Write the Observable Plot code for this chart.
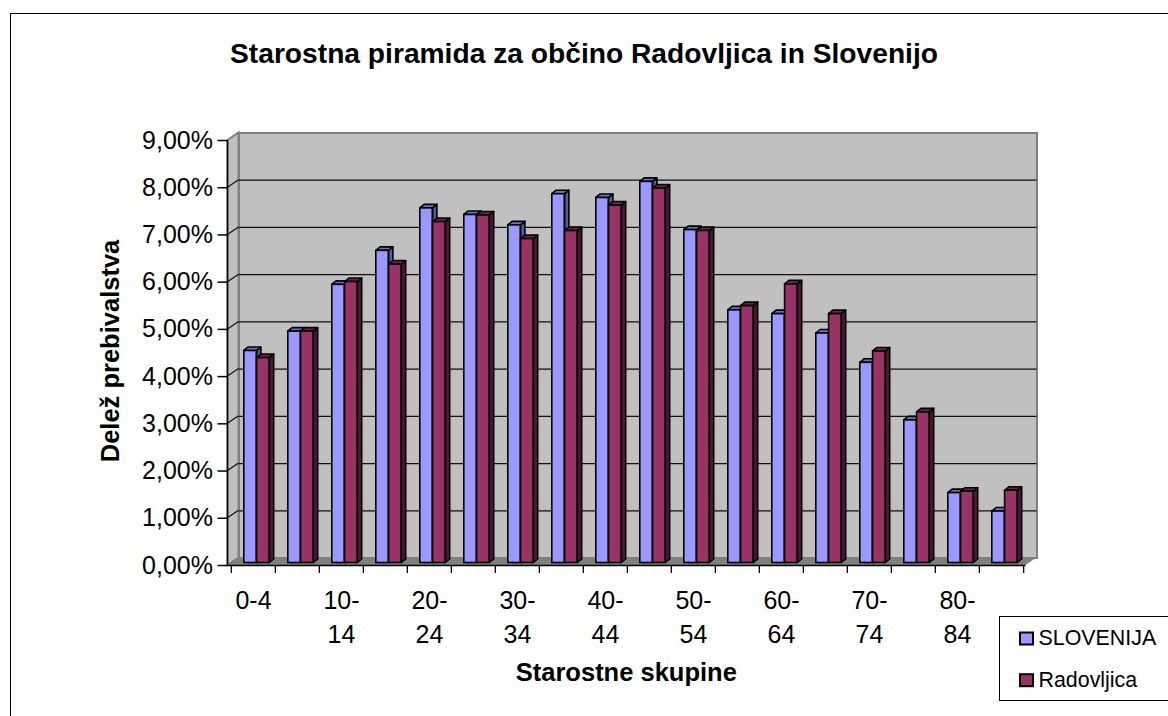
<!DOCTYPE html>
<html><head><meta charset="utf-8">
<script src="https://cdn.jsdelivr.net/npm/d3@7"></script>
<script src="https://cdn.jsdelivr.net/npm/@observablehq/plot@0.6"></script>
<style>
html,body{margin:0;padding:0;overflow:hidden;background:#fff;width:1168px;height:716px;}
#wrap{position:relative;width:1168px;height:716px;overflow:hidden;background:#fff;}
#border{position:absolute;left:10px;top:13px;width:1300px;height:900px;border:1px solid #000;box-sizing:border-box;}
#chart{position:absolute;left:0;top:0;}
</style></head><body>
<div id="wrap"><div id="border"></div><div id="chart"></div></div>
<script>
// ---- data ----
const ages = ["0-4","5-9","10-14","15-19","20-24","25-29","30-34","35-39","40-44","45-49","50-54","55-59","60-64","65-69","70-74","75-79","80-84","85+"];
const slovenija = [4.49, 4.90, 5.89, 6.61, 7.51, 7.37, 7.15, 7.81, 7.73, 8.07, 7.05, 5.35, 5.27, 4.86, 4.24, 3.02, 1.48, 1.09];
const radovljica = [4.34, 4.90, 5.95, 6.32, 7.22, 7.36, 6.86, 7.03, 7.57, 7.93, 7.03, 5.44, 5.90, 5.27, 4.48, 3.19, 1.51, 1.53];
const yTicks = [0, 0.01, 0.02, 0.03, 0.04, 0.05, 0.06, 0.07, 0.08, 0.09];
const labeledAges = ["0-4","10-14","20-24","30-34","40-44","50-54","60-64","70-74","80-84"];
const tickLabels = ["0-4","10-\n14","20-\n24","30-\n34","40-\n44","50-\n54","60-\n64","70-\n74","80-\n84"];
const seriesNames = ["SLOVENIJA","Radovljica"];
const title = "Starostna piramida za občino Radovljica in Slovenijo";
const xTitle = "Starostne skupine";
const yTitle = "Delež prebivalstva";

// ---- styling / layout ----
const colors = ["#9999FF","#993366"];
const sideColors = ["#5B5B99","#4C1833"];
const topColors = ["#7070C0","#6E2449"];
const W = 1168, H = 716, ML = 227.5, MR = 142.5, MT = 140, MB = 151;
const bw = (W - ML - MR) / ages.length;
const DEPTH = [11, -7.5], OFF = [3.5, -2.5], BD = [4.3, -3.5];
const barW = 12.8, lead = 9.3;
const FONT = "'Liberation Sans', Arial, sans-serif";

const rows = ages.map((age, i) => ({age, slo: slovenija[i] / 100, rad: radovljica[i] / 100}));
const fmt = d => (d * 100).toFixed(2).replace(".", ",") + "%";

const chart = Plot.plot({
  width: W, height: H, marginLeft: ML, marginRight: MR, marginTop: MT, marginBottom: MB,
  style: {fontFamily: FONT, fontSize: "25px", background: "transparent", color: "#000", overflow: "visible"},
  x: {type: "band", domain: ages, padding: 0},
  y: {domain: [0, 0.09], nice: false},
  marks: [
    Plot.frame({fill: "#C0C0C0", stroke: "#808080", strokeWidth: 2, dx: DEPTH[0], dy: DEPTH[1]}),
    Plot.ruleY(yTicks.slice(1, -1), {stroke: "#111", strokeWidth: 1.2, dx: DEPTH[0], dy: DEPTH[1]}),
    Plot.barY(rows, {x: "age", y: "slo", fill: colors[0], stroke: "#000", strokeWidth: 1.6,
      insetLeft: lead, insetRight: bw - lead - barW, dx: OFF[0], dy: OFF[1]}),
    Plot.barY(rows, {x: "age", y: "rad", fill: colors[1], stroke: "#000", strokeWidth: 1.6,
      insetLeft: lead + barW, insetRight: bw - lead - 2 * barW, dx: OFF[0], dy: OFF[1]}),
    Plot.ruleY([0], {stroke: "#000", strokeWidth: 1.5}),
    Plot.axisY({ticks: yTicks, tickFormat: fmt, tickSize: 10, tickPadding: 5, fontSize: 25, label: null, strokeWidth: 1.5}),
    Plot.axisX({ticks: ages, tickSize: 8, tickFormat: () => "", label: null, dx: -bw / 2, strokeWidth: 1.3}),
    Plot.axisX({ticks: [ages[ages.length - 1]], tickSize: 8, tickFormat: () => "", label: null, dx: bw / 2, strokeWidth: 1.3}),
    Plot.text(labeledAges, {x: d => d, y: () => 0, text: (d, i) => tickLabels[i], lineAnchor: "top", lineHeight: 1.37, dy: 19, fontSize: 25}),
    Plot.text([title], {text: d => d, frameAnchor: "top", textAnchor: "middle", dx: -43, dy: -97.9, lineAnchor: "top", fontSize: 28.2, fontWeight: "bold"}),
    Plot.text([xTitle], {text: d => d, frameAnchor: "bottom", textAnchor: "middle", dx: -0.7, dy: 96.9, lineAnchor: "top", fontSize: 25.5, fontWeight: "bold"}),
    Plot.text([yTitle], {text: d => d, frameAnchor: "left", textAnchor: "middle", rotate: -90, dx: -117.5, dy: -2, lineAnchor: "middle", fontSize: 25.5, fontWeight: "bold"})
  ]
});
document.getElementById("chart").appendChild(chart);

// ---- 3D decoration using the plot's own scales ----
const xs = chart.scale("x"), ys = chart.scale("y");
const X = v => xs.apply(v), Y = v => ys.apply(v);
const x0 = xs.range[0], x1 = xs.range[1];
const y0 = Y(0), yTop = Y(yTicks[yTicks.length - 1]);
const pts = a => a.map(p => p.join(",")).join(" ");

const frameEl = chart.querySelector('[aria-label="frame"]');
const walls = d3.create("svg:g");
walls.append("polygon")
  .attr("points", pts([[x0, yTop], [x0 + DEPTH[0], yTop + DEPTH[1]], [x0 + DEPTH[0], y0 + DEPTH[1]], [x0, y0]]))
  .attr("fill", "#C0C0C0").attr("stroke", "#808080").attr("stroke-width", 2);
walls.append("polygon")
  .attr("points", pts([[x0, y0], [x0 + DEPTH[0], y0 + DEPTH[1]], [x1 + DEPTH[0], y0 + DEPTH[1]], [x1, y0]]))
  .attr("fill", "#808080");
walls.selectAll("line.diag").data(yTicks.slice(1, -1)).join("line")
  .attr("x1", x0).attr("y1", d => Y(d)).attr("x2", x0 + DEPTH[0]).attr("y2", d => Y(d) + DEPTH[1])
  .attr("stroke", "#111").attr("stroke-width", 1.2);
frameEl.after(walls.node());

const barGroups = chart.querySelectorAll('g[aria-label="bar"]');
[["slo", 0], ["rad", 1]].forEach(([key, s]) => {
  const g = d3.create("svg:g").attr("stroke", "#000").attr("stroke-width", 1.6).attr("stroke-linejoin", "round");
  rows.forEach(r => {
    const xL = X(r.age) + lead + s * barW + OFF[0];
    const xR = xL + barW;
    const yT = Y(r[key]) + OFF[1];
    const yB = y0 + OFF[1];
    g.append("polygon").attr("fill", sideColors[s])
      .attr("points", pts([[xR, yT], [xR + BD[0], yT + BD[1]], [xR + BD[0], yB + BD[1]], [xR, yB]]));
    g.append("polygon").attr("fill", topColors[s])
      .attr("points", pts([[xL, yT], [xR, yT], [xR + BD[0], yT + BD[1]], [xL + BD[0], yT + BD[1]]]));
  });
  barGroups[s].before(g.node());
});

const svg = d3.select(chart);
svg.append("line").attr("x1", x0).attr("x2", x0).attr("y1", yTop).attr("y2", y0)
  .attr("stroke", "#000").attr("stroke-width", 1.5);

// ---- legend ----
const lg = svg.append("g").attr("font-family", FONT).attr("font-size", 21.4).attr("text-anchor", "start");
lg.append("rect").attr("x", 999.5).attr("y", 616.5).attr("width", 220).attr("height", 84)
  .attr("fill", "#fff").attr("stroke", "#000").attr("stroke-width", 1);
seriesNames.forEach((name, i) => {
  const by = [645, 686.7][i];
  lg.append("rect").attr("x", 1020).attr("y", by - 12.5).attr("width", 13).attr("height", 12)
    .attr("fill", colors[i]).attr("stroke", "#000").attr("stroke-width", 2);
  lg.append("text").attr("x", 1038.5).attr("y", by).attr("fill", "#000").attr("text-anchor", "start").text(name);
});
</script>
</body></html>
